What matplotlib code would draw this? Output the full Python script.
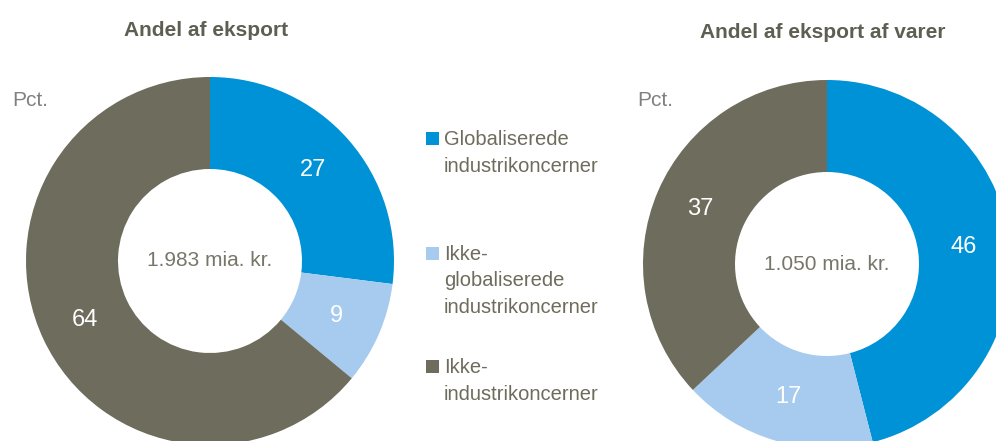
import matplotlib
matplotlib.use('Agg')
import matplotlib.pyplot as plt
from matplotlib.patches import Rectangle

plt.rcParams['font.family'] = ['Liberation Sans Narrow', 'Liberation Sans', 'DejaVu Sans']

# data
categories = ['Globaliserede\nindustrikoncerner',
              'Ikke-\nglobaliserede\nindustrikoncerner',
              'Ikke-\nindustrikoncerner']
andel_eksport = [27, 9, 64]
andel_varer = [46, 17, 37]
titles = ['Andel af eksport', 'Andel af eksport af varer']
totals = ['1.983 mia. kr.', '1.050 mia. kr.']

colors = ['#0092d6', '#a6cbee', '#6e6c5c']
text_grey = '#6e6c5c'

W, H = 996, 441
fig = plt.figure(figsize=(W / 100, H / 100), dpi=100)


def px(x, y):
    # pixel (top-left origin) -> figure fraction
    return x / W, 1 - y / H


def donut(cx, cy, r, values, total):
    l, b = px(cx - r, cy + r)
    ax = fig.add_axes([l, b, 2 * r / W, 2 * r / H])
    ax.pie(values, colors=colors, startangle=90, counterclock=False,
           radius=1, wedgeprops=dict(width=0.5, linewidth=0),
           autopct='%.0f', pctdistance=0.75,
           textprops=dict(color='white', fontsize=17))
    ax.set_xlim(-1, 1)
    ax.set_ylim(-1, 1)
    ax.set_aspect('equal')
    ax.axis('off')
    ax.text(0, 0, total, ha='center', va='center', fontsize=15, color='#77766a')
    return ax


donut(210, 261, 184, andel_eksport, totals[0])
donut(827, 264, 184, andel_varer, totals[1])

# titles
fig.text(*px(206, 30), titles[0], ha='center', va='center', fontsize=15,
         fontweight='bold', color='#5f5e52')
fig.text(*px(823, 32), titles[1], ha='center', va='center', fontsize=15,
         fontweight='bold', color='#5f5e52')

# pct
fig.text(*px(12, 100), 'Pct.', ha='left', va='center', fontsize=15, color='#808080')
fig.text(*px(637, 100), 'Pct.', ha='left', va='center', fontsize=15, color='#808080')

# legend (hand placed, Excel spreads the entries unevenly)
legend_y = [138, 253, 366]
for lab, col, y in zip(categories, colors, legend_y):
    x0, y0 = px(426, y + 6.5)
    fig.patches.append(Rectangle((x0, y0), 13 / W, 13 / H, transform=fig.transFigure,
                                 facecolor=col, edgecolor='none'))
    fig.text(*px(444, y - 8), lab, ha='left', va='top', fontsize=14.5,
             color=text_grey, linespacing=1.5)

fig.savefig('out.png', dpi=100)
